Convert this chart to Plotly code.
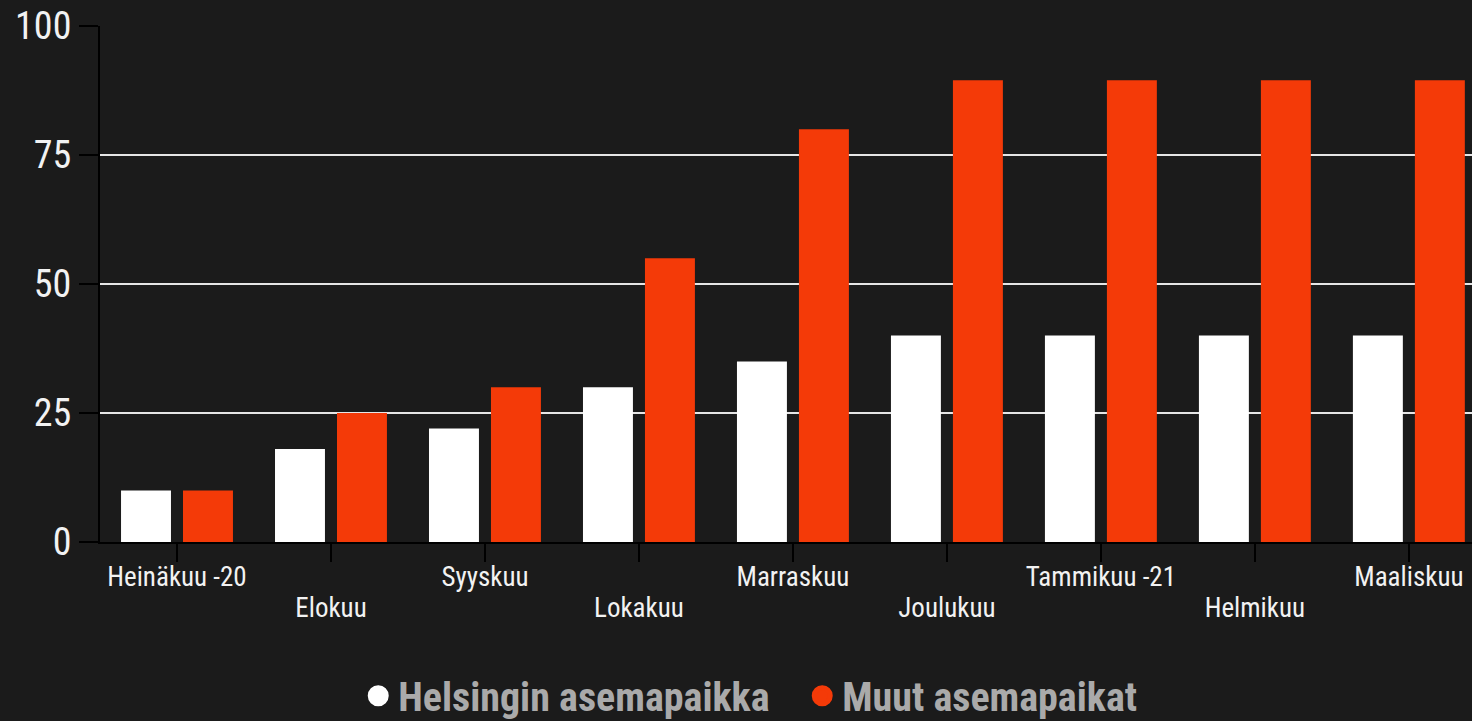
import plotly.graph_objects as go

categories = ["Heinäkuu -20", "Elokuu", "Syyskuu", "Lokakuu", "Marraskuu",
              "Joulukuu", "Tammikuu -21", "Helmikuu", "Maaliskuu"]
helsinki = [10, 18, 22, 30, 35, 40, 40, 40, 40]
muut = [10, 25, 30, 55, 80, 89.5, 89.5, 89.5, 89.5]
series_names = ["Helsingin asemapaikka", "Muut asemapaikat"]
y_ticks = [0, 25, 50, 75, 100]

BG = "#1b1b1b"
WHITE = "#ffffff"
RED = "#f43a08"
FONT = "Roboto Condensed, Liberation Sans Narrow, DejaVu Sans Condensed, Roboto, sans-serif"

upper_text = [c if i % 2 == 0 else "" for i, c in enumerate(categories)]
lower_text = [c if i % 2 == 1 else "" for i, c in enumerate(categories)]

fig = go.Figure()
fig.add_trace(go.Bar(x=categories, y=helsinki, marker_color=WHITE, marker_line_width=0,
                     showlegend=False, name=series_names[0]))
fig.add_trace(go.Bar(x=categories, y=muut, marker_color=RED, marker_line_width=0,
                     showlegend=False, name=series_names[1]))
# invisible helper trace so the second (lower-row label) axis is drawn
fig.add_trace(go.Scatter(x=categories, y=[None] * len(categories), xaxis="x2",
                         mode="markers", showlegend=False, hoverinfo="skip"))
for nm, col in zip(series_names, [WHITE, RED]):
    fig.add_trace(go.Scatter(x=[None], y=[None], mode="markers", name=nm,
                             marker=dict(symbol="circle", size=16, color=col,
                                         line=dict(color=col, width=5))))

fig.update_layout(
    template="none",
    width=1472, height=721,
    paper_bgcolor=BG, plot_bgcolor=BG,
    margin=dict(l=100, r=0, t=26, b=179),
    barmode="group", bargap=0.195, bargroupgap=0.194,
    font=dict(family=FONT, color="#f2f2f2"),
    legend=dict(orientation="h", xref="container", yref="container",
                x=0.545, xanchor="center", y=0.035, yanchor="middle",
                font=dict(family=FONT, size=40, color="#aaaaaa", weight="bold"),
                itemsizing="trace", itemwidth=30, traceorder="normal",
                entrywidth=399, bgcolor="rgba(0,0,0,0)"),
    xaxis=dict(
        categoryorder="array", categoryarray=categories,
        tickvals=categories, ticktext=upper_text,
        range=[-0.5, 8.41],
        showline=True, linecolor="#000000", linewidth=2,
        ticks="outside", ticklen=18, tickwidth=2, tickcolor="#000000",
        ticklabelstandoff=-8,
        tickfont=dict(size=27, color="#f2f2f2"),
        showgrid=False, zeroline=False,
    ),
    xaxis2=dict(overlaying="x", side="bottom", anchor="y",
                categoryorder="array", categoryarray=categories,
                tickvals=categories, ticktext=lower_text,
                range=[-0.5, 8.41], showline=False, ticks="",
                showgrid=False, zeroline=False, ticklabelstandoff=47,
                tickfont=dict(size=27, color="#f2f2f2")),
    yaxis=dict(
        range=[0, 100], tickvals=y_ticks,
        showline=True, linecolor="#000000", linewidth=2,
        ticks="outside", ticklen=19, tickwidth=2, tickcolor="#000000",
        tickfont=dict(size=38, color="#f2f2f2"),
        showgrid=True, gridcolor="#e6e6e6", gridwidth=1.5,
        zeroline=False,
    ),
)

fig.write_html("out.html", config={"displayModeBar": False},
               post_script="document.body.style.margin='0';document.body.style.overflow='hidden';")
